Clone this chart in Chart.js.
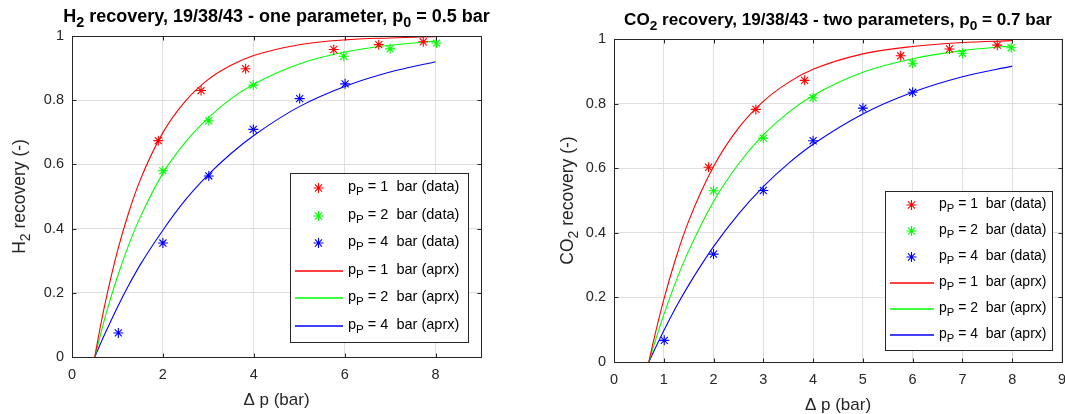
<!DOCTYPE html>
<html>
<head>
<meta charset="utf-8">
<script src="https://cdn.jsdelivr.net/npm/chart.js@4.4.1/dist/chart.umd.min.js"></script>
<style>
body{margin:0;background:#fff;overflow:hidden}
#wrap{position:relative;width:1065px;height:414px;overflow:hidden;background:#fff}
canvas{position:absolute;top:0}
</style>
</head>
<body>
<div id="wrap">
<canvas id="h2" width="530" height="414" style="left:0"></canvas>
<canvas id="co2" width="545" height="414" style="left:530px"></canvas>
</div>
<script>
var FONT='"Liberation Sans", Arial, Helvetica, sans-serif';
var RED='#ff0000', GREEN='#00ff00', BLUE='#0000ff';

// common
var yTicks=[0,0.2,0.4,0.6,0.8,1];
var legendLabels=['p_P = 1  bar (data)','p_P = 2  bar (data)','p_P = 4  bar (data)',
                  'p_P = 1  bar (aprx)','p_P = 2  bar (aprx)','p_P = 4  bar (aprx)'];
var xLabel='\u0394 p (bar)';

// left: H2, one parameter, p0 = 0.5 bar
var h2Title='H_2 recovery, 19/38/43 - one parameter, p_0 = 0.5 bar';
var h2YLabel='H_2 recovery (-)';
var h2XTicks=[0,2,4,6,8];
var h2X1=[1.9,2.84,3.82,5.76,6.75,7.73],  h2Y1=[0.674,0.83,0.898,0.958,0.973,0.982];
var h2X2=[2.0,3.01,3.99,5.98,7.0,8.02],   h2Y2=[0.58,0.736,0.847,0.937,0.96,0.978];
var h2X4=[1.02,2.0,3.01,3.99,5.01,6.01],  h2Y4=[0.075,0.355,0.564,0.709,0.805,0.851];
var h2FitX=[0.5,0.6,0.75,1,1.25,1.5,2,2.5,3,3.5,4,5,6,7,8];
var h2Fit1=[0,0.077,0.181,0.33,0.451,0.551,0.699,0.798,0.865,0.909,0.939,0.973,0.988,0.994,0.998];
var h2Fit2=[0,0.054,0.135,0.25,0.35,0.435,0.572,0.67,0.745,0.805,0.85,0.913,0.95,0.971,0.984];
var h2Fit4=[0,0.033,0.08,0.155,0.224,0.287,0.395,0.49,0.568,0.634,0.69,0.78,0.843,0.888,0.92];

// right: CO2, two parameters, p0 = 0.7 bar
var co2Title='CO_2 recovery, 19/38/43 - two parameters, p_0 = 0.7 bar';
var co2YLabel='CO_2 recovery (-)';
var co2XTicks=[0,1,2,3,4,5,6,7,8,9];
var co2X1=[1.9,2.85,3.83,5.76,6.74,7.7],  co2Y1=[0.603,0.782,0.872,0.948,0.969,0.981];
var co2X2=[2.0,3.0,4.0,6.0,7.0,7.98],     co2Y2=[0.53,0.693,0.818,0.925,0.956,0.973];
var co2X4=[1.01,2.0,3.0,4.0,5.0,6.0],     co2Y4=[0.067,0.334,0.531,0.685,0.786,0.835];
var co2FitX=[0.7,0.8,1,1.25,1.5,2,2.5,3,3.5,4,5,6,7,8];
var co2Fit1=[0,0.069,0.193,0.325,0.436,0.605,0.724,0.807,0.865,0.906,0.954,0.977,0.989,0.995];
var co2Fit2=[0,0.051,0.146,0.252,0.344,0.497,0.613,0.703,0.772,0.825,0.897,0.939,0.964,0.979];
var co2Fit4=[0,0.033,0.097,0.171,0.238,0.357,0.458,0.543,0.614,0.674,0.768,0.835,0.883,0.916];

function pts(xs,ys){ return xs.map(function(x,i){return {x:x,y:ys[i]};}); }

// "a_b" / "a_{bc}" -> subscript segments
function parseRich(s){
  var out=[],buf='',i=0;
  while(i<s.length){
    if(s[i]==='_'){
      if(buf){out.push([buf,false]);buf='';}
      if(s[i+1]==='{'){var j=s.indexOf('}',i);out.push([s.slice(i+2,j),true]);i=j+1;}
      else{out.push([s[i+1],true]);i+=2;}
    } else {buf+=s[i];i++;}
  }
  if(buf) out.push([buf,false]);
  return out;
}
function drawRich(ctx,s,x,y,size,weight,align,color){
  var segs=parseRich(s),w=0;
  segs.forEach(function(g){ctx.font=weight+' '+(g[1]?size*0.8:size)+'px '+FONT;w+=ctx.measureText(g[0]).width;});
  var cx=align==='center'?x-w/2:(align==='right'?x-w:x);
  ctx.fillStyle=color;ctx.textAlign='left';ctx.textBaseline='alphabetic';
  segs.forEach(function(g){
    ctx.font=weight+' '+(g[1]?size*0.8:size)+'px '+FONT;
    ctx.fillText(g[0],cx,y+(g[1]?size*0.3:0));
    cx+=ctx.measureText(g[0]).width;
  });
}
function star(ctx,x,y,r){
  var d=r*Math.SQRT1_2;
  ctx.beginPath();
  ctx.moveTo(x-r,y);ctx.lineTo(x+r,y);
  ctx.moveTo(x,y-r);ctx.lineTo(x,y+r);
  ctx.moveTo(x-d,y-d);ctx.lineTo(x+d,y+d);
  ctx.moveTo(x-d,y+d);ctx.lineTo(x+d,y-d);
  ctx.stroke();
}

// frame, inner ticks, legend and rich-text titles (MATLAB look)
function deco(c){
  return {
    id:'deco',
    afterDraw:function(chart){
      var ctx=chart.ctx,a=chart.chartArea,xs=chart.scales.x,ys=chart.scales.y;
      ctx.save();
      ctx.strokeStyle='#262626';ctx.lineWidth=1;
      var L=Math.round(a.left)+0.5,T=Math.round(a.top)+0.5,R=Math.round(a.right)+0.5,B=Math.round(a.bottom)+0.5;
      ctx.strokeRect(L,T,R-L,B-T);
      ctx.beginPath();
      c.xTicks.forEach(function(v){var p=Math.round(xs.getPixelForValue(v))+0.5;
        ctx.moveTo(p,B);ctx.lineTo(p,B-4);ctx.moveTo(p,T);ctx.lineTo(p,T+4);});
      yTicks.forEach(function(v){var p=Math.round(ys.getPixelForValue(v))+0.5;
        ctx.moveTo(L,p);ctx.lineTo(L+4,p);ctx.moveTo(R,p);ctx.lineTo(R-4,p);});
      ctx.stroke();

      // legend
      var g=c.legend;
      ctx.fillStyle='#fff';ctx.fillRect(g.x,g.y,g.w,g.h);
      ctx.strokeStyle='#262626';ctx.strokeRect(g.x+0.5,g.y+0.5,g.w,g.h);
      var cols=[RED,GREEN,BLUE,RED,GREEN,BLUE];
      legendLabels.forEach(function(t,i){
        var yy=Math.round(g.y+g.first+i*g.step);
        ctx.strokeStyle=cols[i];
        if(i<3){ctx.lineWidth=1.1;star(ctx,g.x+g.mk,yy,5);}
        else{ctx.lineWidth=1.3;ctx.beginPath();ctx.moveTo(g.x+g.l0,yy);ctx.lineTo(g.x+g.l1,yy);ctx.stroke();}
        drawRich(ctx,t,g.x+g.tx,yy+g.fs*0.2,g.fs,'normal','left','#000');
      });

      var cxm=(a.left+a.right)/2,cym=(a.top+a.bottom)/2;
      drawRich(ctx,c.title,cxm,c.titleY,c.tfs,'bold','center','#000');
      drawRich(ctx,xLabel,cxm,a.bottom+48,17,'normal','center','#262626');
      ctx.translate(a.left-c.ylOff,cym);ctx.rotate(-Math.PI/2);
      drawRich(ctx,c.yLabel,0,0,17.5,'normal','center','#262626');
      ctx.restore();
    }
  };
}

function makeChart(id,c){
  var lineDs=function(xs,ys,col){return {data:pts(xs,ys),showLine:true,borderColor:col,borderWidth:1.1,
    pointRadius:0,cubicInterpolationMode:'monotone',fill:false};};
  var dotDs=function(xs,ys,col){return {data:pts(xs,ys),showLine:false,pointStyle:'star',pointRadius:5,
    pointHoverRadius:5,borderColor:col,backgroundColor:col,borderWidth:1.1};};
  return new Chart(document.getElementById(id),{
    type:'scatter',
    data:{datasets:[
      dotDs(c.x1,c.y1,RED),dotDs(c.x2,c.y2,GREEN),dotDs(c.x4,c.y4,BLUE),
      lineDs(c.fx,c.f1,RED),lineDs(c.fx,c.f2,GREEN),lineDs(c.fx,c.f4,BLUE)
    ]},
    options:{
      responsive:false,animation:false,devicePixelRatio:1,
      layout:{padding:c.pad},
      plugins:{legend:{display:false},tooltip:{enabled:false},title:{display:false}},
      scales:{
        x:{type:'linear',min:0,max:9,
          afterBuildTicks:function(s){s.ticks=c.xTicks.map(function(v){return {value:v};});},
          afterFit:function(s){s.height=40;},
          grid:{color:'#dfdfdf',drawTicks:false},border:{display:false},
          ticks:{padding:9,color:'#262626',font:{family:FONT,size:14.5},maxRotation:0,autoSkip:false,
            callback:function(v){return String(v);}}},
        y:{type:'linear',min:0,max:1,
          afterBuildTicks:function(s){s.ticks=yTicks.map(function(v){return {value:v};});},
          afterFit:function(s){s.width=c.yw;},
          grid:{color:'#dfdfdf',drawTicks:false},border:{display:false},
          ticks:{padding:8,color:'#262626',font:{family:FONT,size:14.5},autoSkip:false,
            callback:function(v){return String(v);}}}
      }
    },
    plugins:[deco(c)]
  });
}

makeChart('h2',{
  x1:h2X1,y1:h2Y1,x2:h2X2,y2:h2Y2,x4:h2X4,y4:h2Y4,fx:h2FitX,f1:h2Fit1,f2:h2Fit2,f4:h2Fit4,
  xTicks:h2XTicks,title:h2Title,yLabel:h2YLabel,titleY:21.5,tfs:18,ylOff:47,yw:72,
  pad:{left:0,right:49,top:36,bottom:17},
  legend:{x:290,y:173,w:178,h:169,first:15,step:27.5,mk:28.5,l0:5,l1:53,tx:58,fs:14.5}
});
makeChart('co2',{
  x1:co2X1,y1:co2Y1,x2:co2X2,y2:co2Y2,x4:co2X4,y4:co2Y4,fx:co2FitX,f1:co2Fit1,f2:co2Fit2,f4:co2Fit4,
  xTicks:co2XTicks,title:co2Title,yLabel:co2YLabel,titleY:25,tfs:17.1,ylOff:41,yw:84,
  pad:{left:0,right:11,top:39,bottom:12},
  legend:{x:355,y:191,w:167,h:159,first:13.5,step:26,mk:26.5,l0:5,l1:49,tx:54,fs:14}
});
</script>
</body>
</html>
